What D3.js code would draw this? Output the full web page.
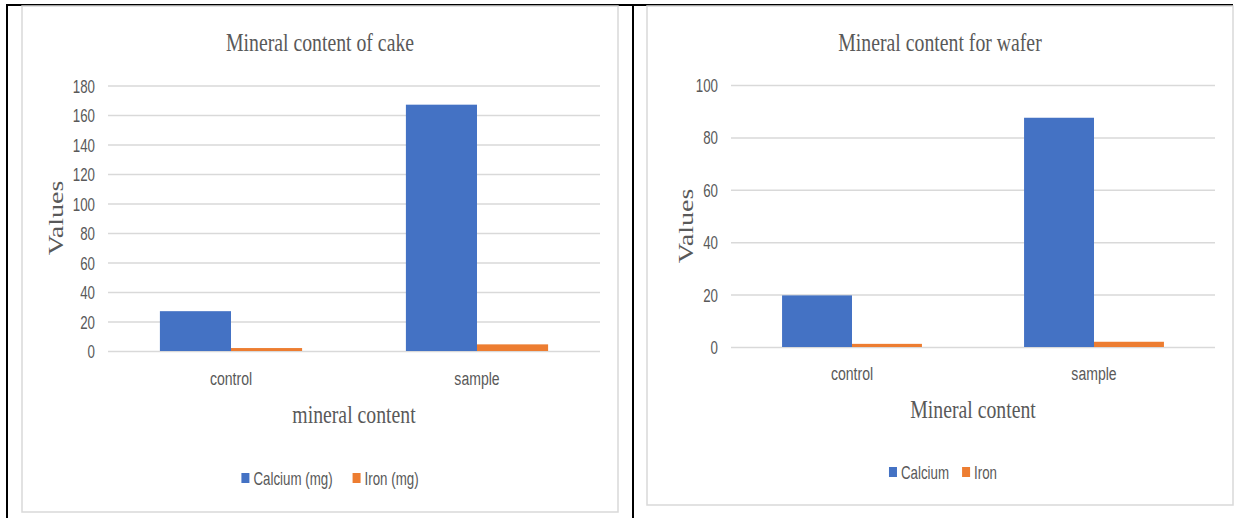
<!DOCTYPE html>
<html>
<head>
<meta charset="utf-8">
<script src="https://cdn.jsdelivr.net/npm/d3@7"></script>
<style>
  body { margin: 0; background: #fff; }
  svg { display: block; }
</style>
</head>
<body>
<div id="chart"></div>
<script>
// Data
const categories = ["control", "sample"];
const cakeSeries = ["Calcium (mg)", "Iron (mg)"];
const cakeCalcium = [27, 167];
const cakeIron = [2, 4.5];
const cakeTicks = [0, 20, 40, 60, 80, 100, 120, 140, 160, 180];

const waferSeries = ["Calcium", "Iron"];
const waferCalcium = [19.7, 87.5];
const waferIron = [1.2, 2];
const waferTicks = [0, 20, 40, 60, 80, 100];

const colors = ["#4472C4", "#ED7D31"];
const textColor = "#595959";
const gridColor = "#d9d9d9";
const serif = "'Liberation Serif', 'Times New Roman', serif";
const sans = "'Liberation Sans', Arial, sans-serif";
// the picture is narrow horizontally, so text gets squeezed
const serifSqueeze = 0.76;
const sansSqueeze = 0.74;

const W = 1241, H = 518;
const svg = d3.select("#chart").append("svg")
    .attr("width", W)
    .attr("height", H);

// Black table lines round the two charts
svg.append("line").attr("x1", 7).attr("x2", 1233).attr("y1", 5).attr("y2", 5)
    .attr("stroke", "#000").attr("stroke-width", 2);
svg.append("line").attr("x1", 7).attr("x2", 7).attr("y1", 4).attr("y2", H)
    .attr("stroke", "#000").attr("stroke-width", 2);
svg.append("line").attr("x1", 633).attr("x2", 633).attr("y1", 4).attr("y2", H)
    .attr("stroke", "#000").attr("stroke-width", 2);

function squeezedText(g, x, y, str, size, family, sq, anchor) {
    return g.append("text")
        .attr("transform", `translate(${x},${y}) scale(${sq},1)`)
        .attr("text-anchor", anchor || "middle")
        .style("font-family", family)
        .style("font-size", size + "px")
        .style("fill", textColor)
        .text(str);
}

function drawChart(cfg) {
    const g = svg.append("g");

    // Chart area frame
    g.append("rect")
        .attr("x", cfg.panel[0]).attr("y", cfg.panel[1])
        .attr("width", cfg.panel[2] - cfg.panel[0])
        .attr("height", cfg.panel[3] - cfg.panel[1])
        .attr("fill", "#fff")
        .attr("stroke", gridColor)
        .attr("stroke-width", 1.5);

    const x0 = d3.scaleBand()
        .domain(categories)
        .range([cfg.plot.left, cfg.plot.right]);

    const x1 = d3.scaleBand()
        .domain(cfg.series)
        .range([0, x0.bandwidth()])
        .paddingOuter(0.73);

    const y = d3.scaleLinear()
        .domain([0, d3.max(cfg.ticks)])
        .range([cfg.plot.bottom, cfg.plot.top]);

    // Gridlines + tick labels
    const yAxis = g.append("g")
        .attr("transform", `translate(${cfg.plot.left},0)`)
        .call(d3.axisLeft(y)
            .tickValues(cfg.ticks)
            .tickSize(-(cfg.plot.right - cfg.plot.left))
            .tickPadding(13));
    yAxis.select(".domain").remove();
    yAxis.selectAll(".tick line")
        .attr("stroke", gridColor)
        .attr("stroke-width", 1.5);
    yAxis.selectAll(".tick text")
        .attr("x", null)
        .attr("dy", null)
        .attr("transform", `translate(-13,6.5) scale(${sansSqueeze},1)`)
        .style("font-family", sans)
        .style("font-size", "18px")
        .style("fill", textColor);

    // Bars
    const rows = categories.map((c, i) => ({
        category: c,
        values: cfg.series.map((s, j) => ({ key: s, value: cfg.values[j][i], idx: j }))
    }));

    g.selectAll(".group")
        .data(rows)
        .enter()
        .append("g")
        .attr("transform", d => `translate(${x0(d.category)},0)`)
        .selectAll("rect")
        .data(d => d.values)
        .enter()
        .append("rect")
        .attr("x", d => x1(d.key))
        .attr("width", x1.bandwidth())
        .attr("y", d => y(d.value))
        .attr("height", d => y(0) - y(d.value))
        .attr("fill", d => colors[d.idx]);

    // Category labels
    const xAxis = g.append("g")
        .attr("transform", `translate(0,${cfg.plot.bottom})`)
        .call(d3.axisBottom(x0).tickSize(0));
    xAxis.select(".domain").remove();
    xAxis.selectAll(".tick text")
        .attr("y", null)
        .attr("dy", null)
        .attr("transform", `translate(0,${cfg.catOffset}) scale(${sansSqueeze},1)`)
        .style("font-family", sans)
        .style("font-size", "19px")
        .style("fill", textColor);

    // Title
    squeezedText(g, (cfg.panel[0] + cfg.panel[2]) / 2, cfg.titleY, cfg.title, 26, serif, serifSqueeze);

    // Axis titles
    squeezedText(g, (cfg.plot.left + cfg.plot.right) / 2, cfg.xTitleY, cfg.xTitle, 26, serif, serifSqueeze);
    g.append("text")
        .attr("transform", `translate(${cfg.yTitle[0]},${cfg.yTitle[1]}) rotate(-90) scale(1,${serifSqueeze})`)
        .attr("text-anchor", "middle")
        .style("font-family", serif)
        .style("font-size", "28px")
        .style("fill", textColor)
        .text("Values");

    // Legend, laid out from the text widths and centred
    const legend = g.append("g");
    let cursor = 0;
    cfg.series.forEach((s, i) => {
        const item = legend.append("g").attr("transform", `translate(${cursor},0)`);
        item.append("rect")
            .attr("x", 0).attr("y", -5)
            .attr("width", 8).attr("height", 10)
            .attr("fill", colors[i]);
        const t = squeezedText(item, 12, 6.5, s, 18, sans, sansSqueeze, "start");
        const w = t.node().getComputedTextLength() * sansSqueeze;
        cursor += 12 + w + cfg.legendGap;
    });
    const total = cursor - cfg.legendGap;
    legend.attr("transform", `translate(${cfg.legend[0] - total / 2},${cfg.legend[1]})`);
}

drawChart({
    panel: [22, 6, 618, 512],
    plot: { left: 108, right: 600, top: 85.5, bottom: 351 },
    series: cakeSeries,
    values: [cakeCalcium, cakeIron],
    ticks: cakeTicks,
    title: "Mineral content of cake",
    titleY: 51,
    xTitle: "mineral content",
    xTitleY: 423,
    yTitle: [63, 218],
    catOffset: 34,
    legend: [330, 478],
    legendGap: 20
});

drawChart({
    panel: [647, 6, 1233, 505],
    plot: { left: 731, right: 1215, top: 85, bottom: 347 },
    series: waferSeries,
    values: [waferCalcium, waferIron],
    ticks: waferTicks,
    title: "Mineral content for wafer",
    titleY: 51,
    xTitle: "Mineral content",
    xTitleY: 418,
    yTitle: [693, 226],
    catOffset: 33,
    legend: [943, 472],
    legendGap: 13
});
</script>
</body>
</html>
